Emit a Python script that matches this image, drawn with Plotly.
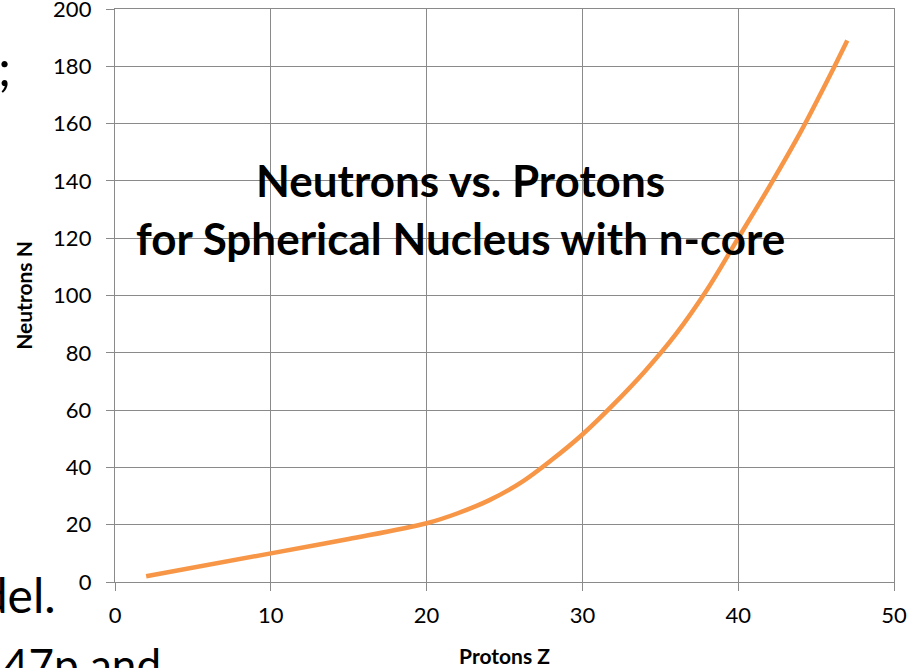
import plotly.graph_objects as go

# Data
protons_z = [2, 10, 15, 20, 22, 24, 26, 28, 30, 32, 34, 36, 38, 40, 42, 44, 46, 47]
neutrons_n = [2, 10, 15, 20.5, 24, 28.5, 34.5, 42.5, 51.5, 62, 73.5, 86.5, 102, 120, 138, 157, 178, 189]

x_ticks = [0, 10, 20, 30, 40, 50]
y_ticks = [0, 20, 40, 60, 80, 100, 120, 140, 160, 180, 200]

GRID = "#8a8a8a"
LINE_ORANGE = "#F79646"
FONT = "Lato, 'Open Sans', sans-serif"

fig = go.Figure()

fig.add_trace(go.Scatter(
    x=protons_z,
    y=neutrons_n,
    mode="lines",
    line=dict(color=LINE_ORANGE, width=4.5, shape="spline", smoothing=1.0),
    showlegend=False,
))

axis_common = dict(
    showgrid=True,
    gridcolor=GRID,
    gridwidth=1.4,
    showline=True,
    linecolor=GRID,
    linewidth=1.4,
    mirror=True,
    ticks="outside",
    ticklen=8,
    tickcolor=GRID,
    tickwidth=1.4,
    zeroline=False,
    automargin=False,
    ticklabeloverflow="allow",
    tickfont=dict(family=FONT, size=22, color="#000000"),
)

fig.update_layout(
    width=908,
    height=668,
    paper_bgcolor="white",
    plot_bgcolor="white",
    margin=dict(l=115, r=14, t=9, b=86),
    font=dict(family=FONT, color="#000000"),
    xaxis=dict(
        range=[0, 50],
        tickvals=x_ticks,
        ticklabelstandoff=5,
        title=dict(text="<b>Protons Z</b>", font=dict(family=FONT, size=21), standoff=23),
        **axis_common,
    ),
    yaxis=dict(
        range=[0, 200],
        tickvals=y_ticks,
        ticklabelstandoff=10,
        title=dict(text="<b>Neutrons N</b>", font=dict(family=FONT, size=21), standoff=14),
        **axis_common,
    ),
)

# Chart title drawn inside the plot area, two lines
fig.add_annotation(
    text="<b>Neutrons vs. Protons</b>", xref="paper", yref="paper",
    x=0.443, y=0.7016, showarrow=False, xanchor="center", yanchor="middle",
    font=dict(family=FONT, size=44, color="#000000"),
)
fig.add_annotation(
    text="<b>for Spherical Nucleus with n-core</b>", xref="paper", yref="paper",
    x=0.443, y=0.600, showarrow=False, xanchor="center", yanchor="middle",
    font=dict(family=FONT, size=44, color="#000000"),
)

# Fragments of surrounding slide text visible at the left edge
fig.add_annotation(
    text=";", xref="paper", yref="paper", x=-0.131, y=0.898,
    showarrow=False, xanchor="right", yanchor="middle",
    font=dict(family=FONT, size=50, color="#000000"),
)
fig.add_annotation(
    text="model.", xref="paper", yref="paper", x=-0.0732, y=-0.021,
    showarrow=False, xanchor="right", yanchor="middle",
    font=dict(family=FONT, size=48, color="#000000"),
)
fig.add_annotation(
    text="47p and", xref="paper", yref="paper", x=-0.146, y=-0.094,
    showarrow=False, xanchor="left", yanchor="top",
    font=dict(family=FONT, size=44, color="#000000"),
)

# remove the page's default body margin so the figure sits at the window corner
fig.write_html(
    "out.html",
    config={"displayModeBar": False},
    post_script="document.body.style.margin='0';",
)
